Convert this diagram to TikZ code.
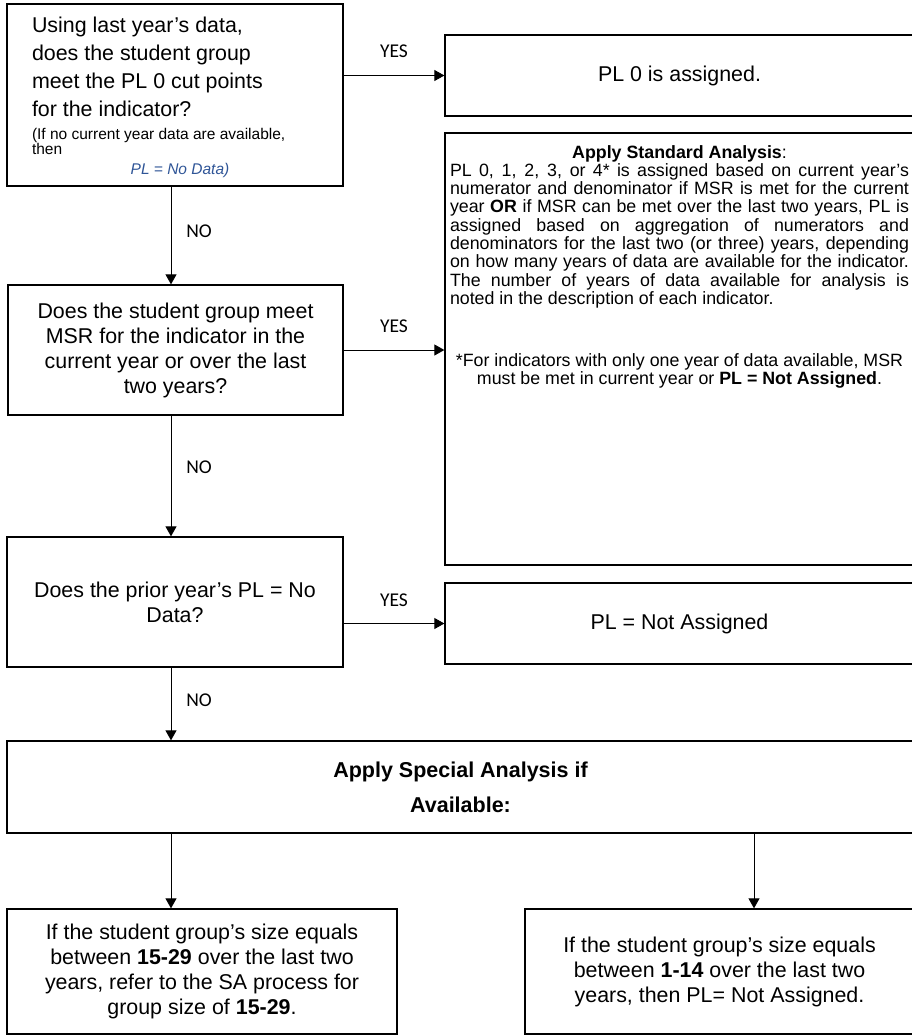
\documentclass[tikz,border=0pt]{standalone}
\usepackage{fontspec}
\setmainfont{Liberation Sans}
\newfontfamily\calfont{Carlito}
\usetikzlibrary{arrows.meta}
\definecolor{nodata}{HTML}{2F5597}

\begin{document}
\begin{tikzpicture}[x=1pt, y=-1pt,
    box/.style={draw, line width=1.3pt, inner sep=0pt, align=center,
      font=\fontsize{21.4}{25}\selectfont,
      execute at begin node={\spaceskip=0pt\xspaceskip=0pt}},
    flow/.style={-{Triangle[length=10pt,width=11pt]}, line width=0.9pt},
    answer/.style={font=\calfont\fontsize{19.5}{20}\selectfont}]
  \useasboundingbox (0,0) rectangle (912,1036);
  \coordinate (colL) at (171,0);
  \coordinate (colR) at (754,0);
  % questions on the left
  \node[box, align=left, text width=286pt, inner xsep=25pt,
    minimum height=182pt] (q1) at (175,95) {%
    \raggedright\spaceskip=0pt\xspaceskip=0pt
    \fontsize{21.4}{28}\selectfont\rule{0pt}{20.5pt}Using last year’s data,\\ does the student group\\
    meet the PL 0 cut points\\ for the indicator?\par
    \fontsize{15.5}{15}\selectfont\vspace{8pt}(If no current year data are available,\\ then\par
    \vspace{5pt}\makebox[\hsize]{\hspace*{10pt}\color{nodata}\itshape PL = No Data)}\par};
  \node[box, minimum width=335pt, minimum height=130pt] (q2) at (175.5,350)
    {Does the student group meet\\ MSR for the indicator in the\\
     current year or over the last\\ two years?};
  \node[box, minimum width=336pt, minimum height=130pt] (q3) at (175,602)
    {Does the prior year’s PL = No\\ Data?};
  % outcomes on the right
  \node[box, minimum width=469pt, minimum height=81pt] (pl0) at (679.5,75.5)
    {PL 0 is assigned.};
  \node[box, inner sep=5pt, font=\fontsize{17.8}{18.3}\selectfont] (std) at (679.5,349)
    {\parbox[c][422pt][t]{459pt}{\spaceskip=0pt\xspaceskip=0pt
      {\centering\rule{0pt}{20pt}\textbf{Apply Standard Analysis}:\par}
      PL 0, 1, 2, 3, or 4* is assigned based on current year’s\linebreak
      numerator and denominator if MSR is met for the current\linebreak
      year \textbf{OR} if MSR can be met over the last two years, PL is\linebreak
      assigned based on aggregation of numerators and\linebreak
      denominators for the last two (or three) years, depending\linebreak
      on how many years of data are available for the indicator.\linebreak
      The number of years of data available for analysis is\linebreak
      noted in the description of each indicator.\par
      \vspace{43.5pt}
      {\centering *For indicators with only one year of data available, MSR\\
      must be met in current year or \textbf{PL = Not Assigned}.\par}}};
  \node[box, minimum width=469pt, minimum height=81pt] (na) at (679.5,623.5)
    {PL = Not Assigned};
  % special analysis
  \node[box, minimum width=907pt, minimum height=92pt,
    font=\bfseries\fontsize{21.5}{35}\selectfont] (sa) at (460.5,787)
    {Apply Special Analysis if\\ Available:};
  \node[box, minimum width=390pt, minimum height=125pt] (big) at (202,971.5)
    {If the student group’s size equals\\ between \textbf{15-29} over the last two\\
     years, refer to the SA process for\\ group size of \textbf{15-29}.};
  \node[box, minimum width=389pt, minimum height=125pt] (small) at (719.5,971.5)
    {If the student group’s size equals\\ between \textbf{1-14} over the last two\\
     years, then PL= Not Assigned.};
  % connectors
  \draw[flow] (q1.south -| colL) -- node[answer, pos=.46, xshift=28pt] {NO} (q2.north -| colL);
  \draw[flow] (q2.south -| colL) -- node[answer, pos=.43, xshift=28pt] {NO} (q3.north -| colL);
  \draw[flow] (q3.south -| colL) -- node[answer, pos=.45, xshift=28pt] {NO} (sa.north -| colL);
  \draw[flow] (q1.east |- pl0.west) -- node[answer, yshift=24pt] {YES} (pl0.west);
  \draw[flow] (q2.east) -- node[answer, yshift=24pt] {YES} (q2.east -| std.west);
  \draw[flow] (q3.east |- na.west) -- node[answer, yshift=23pt] {YES} (na.west);
  \draw[flow] (sa.south -| colL) -- (big.north -| colL);
  \draw[flow] (sa.south -| colR) -- (small.north -| colR);
\end{tikzpicture}
\end{document}
